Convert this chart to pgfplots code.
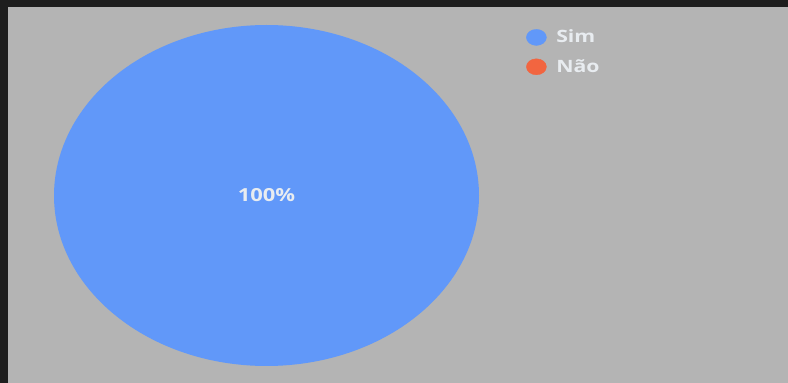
\documentclass[border=0pt]{standalone}
\usepackage{pgfplots}
\pgfplotsset{compat=1.18}
\usepackage{pgfplotstable}
\usepackage{fontspec}
\setmainfont{Open Sans}
\definecolor{bgdark}{HTML}{1E1E1E}
\definecolor{bggrey}{HTML}{B4B4B4}
\definecolor{simblue}{HTML}{6198F9}
\definecolor{naoorange}{HTML}{F26540}
\definecolor{lbltext}{HTML}{E8ECF0}
\pgfplotstableread{
label value
Sim 100
Nao 0
}\piedata
\begin{document}
\begin{tikzpicture}
\begin{axis}[
  scale only axis, width=788pt, height=383pt,
  xmin=0, xmax=788, ymin=0, ymax=383,
  axis lines=none, clip=false,
  legend style={at={(axis cs:523,356)}, anchor=north west, draw=none, fill=none,
    font=\fontsize{17}{18}\selectfont\bfseries, text=lbltext, row sep=13pt,
    nodes={inner sep=1.5pt, text height=12pt, text depth=1pt, xscale=1.25}},
  legend cell align=left,
]
% background
\fill[bgdark] (axis cs:0,0) rectangle (axis cs:788,383);
\fill[bggrey] (axis cs:8,0) rectangle (axis cs:788,376);
% pie slice(s) from the table
\pgfplotstablegetelem{0}{value}\of\piedata
\pgfmathsetmacro{\simang}{\pgfplotsretval*3.6}
\fill[simblue] (axis cs:266.5,187.5) -- (axis cs:266.5,358)
  arc[start angle=90, end angle={90-\simang}, x radius=212.5, y radius=170.5] -- cycle;
\node[text=lbltext, font=\fontsize{18}{20}\selectfont\bfseries, xscale=1.22] at (axis cs:266.5,187.5) {100\%};
\addlegendimage{legend image code/.code={\fill[simblue] (5pt,0) ellipse[x radius=10pt, y radius=8pt]; \path[draw=none,fill=none] (-5pt,0) -- (23pt,0);}}
\addlegendentry{Sim}
\addlegendimage{legend image code/.code={\fill[naoorange] (5pt,0) ellipse[x radius=10pt, y radius=8pt]; \path[draw=none,fill=none] (-5pt,0) -- (23pt,0);}}
\addlegendentry{Não}
\end{axis}
\end{tikzpicture}
\end{document}
